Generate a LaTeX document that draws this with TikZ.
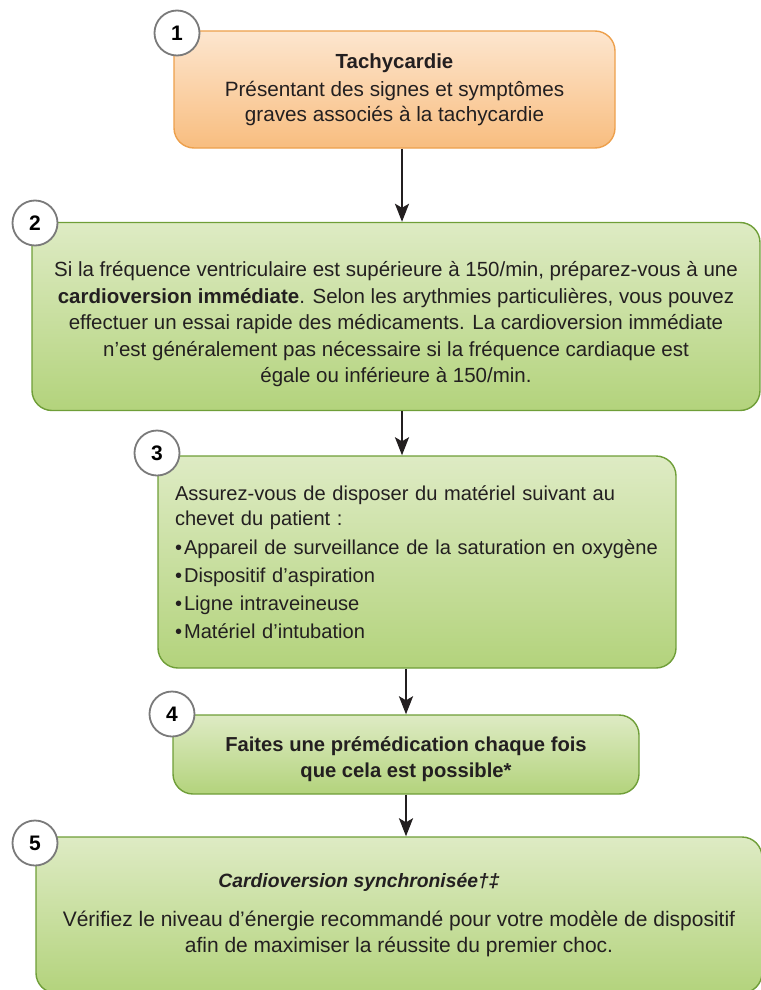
\documentclass[tikz,border=0pt]{standalone}
\usepackage{fontspec}
\setmainfont{Liberation Sans}
\usetikzlibrary{arrows.meta}
\definecolor{otop}{HTML}{FDE6CF}
\definecolor{obot}{HTML}{F8BD7F}
\definecolor{oedge}{HTML}{EDA04C}
\definecolor{gtop}{HTML}{DEEBC4}
\definecolor{gbot}{HTML}{B3D37C}
\definecolor{gedge}{HTML}{6F9E38}
\definecolor{txt}{HTML}{231F20}
\definecolor{cedge}{HTML}{7A7A7A}
\newcommand{\bul}{•\hspace{2pt}}
\begin{document}
\begin{tikzpicture}[x=1pt,y=-1pt,
  font=\fontsize{20.5}{26.5}\selectfont, text=txt,
  box/.style={draw, line width=1.4pt, rounded corners=20pt, inner sep=0pt, align=center},
  obox/.style={box, draw=oedge, top color=otop, bottom color=obot},
  gbox/.style={box, draw=gedge, top color=gtop, bottom color=gbot},
  numc/.style={circle, draw=cedge, fill=white, line width=1.8pt, minimum size=45pt, inner sep=0pt, font=\fontsize{21}{21}\selectfont\bfseries, text=black},
  arr/.style={draw=txt, line width=2.4pt, -{Stealth[length=18pt,width=14pt,inset=4pt]}}]
\useasboundingbox (0,0) rectangle (760,990);

% boxes
\node[obox, minimum width=441pt, minimum height=117pt, font=\fontsize{20.7}{25}\selectfont] (b1) at (394.5,89.5)
  {\textbf{\fontsize{20.4}{25}\selectfont Tachycardie}\\[3pt]
   Présentant des signes et symptômes\\ graves associés à la tachycardie};

\node[gbox, minimum width=728pt, minimum height=188pt] (b2) at (396,316.5)
  {\rule{0pt}{31pt}Si la fréquence ventriculaire est supérieure à 150/min, préparez-vous à une\\
   \textbf{cardioversion immédiate}. Selon les arythmies particulières, vous pouvez\\
   effectuer un essai rapide des médicaments. La cardioversion immédiate\\
   n’est généralement pas nécessaire si la fréquence cardiaque est\\
   égale ou inférieure à 150/min.};

\node[gbox, minimum width=518pt, minimum height=212pt, text width=484pt, inner xsep=17pt, align=left, font=\fontsize{20.1}{25}\selectfont] (b3) at (417,562)
  {Assurez-vous de disposer du matériel suivant au\\
   chevet du patient :\\[4pt]
   \bul Appareil de surveillance de la saturation en oxygène\\[3pt]
   \bul Dispositif d’aspiration\\[3pt]
   \bul Ligne intraveineuse\\[3pt]
   \bul Matériel d’intubation};

\node[gbox, minimum width=466pt, minimum height=79pt, font=\fontsize{20.2}{26}\selectfont\bfseries] (b4) at (406,754.5)
  {\rule{0pt}{25pt}Faites une prémédication chaque fois\\ que cela est possible*};

\node[gbox, minimum width=726pt, minimum height=156pt, font=\fontsize{21}{25.5}\selectfont] (b5) at (399,915)
  {\textbf{\textit{\fontsize{19.3}{25}\selectfont Cardioversion synchronisée†‡}}\hspace{80pt}\mbox{}\\[14pt]
   Vérifiez le niveau d’énergie recommandé pour votre modèle de dispositif\\
   afin de maximiser la réussite du premier choc.};

% numbers
\node[numc] (n1) at (177,33) {1};
\node[numc] (n2) at (35,223) {2};
\node[numc] (n3) at (157,453) {3};
\node[numc] (n4) at (172,714) {4};
\node[numc] (n5) at (35,843) {5};

% arrows
\coordinate (x1) at (402,0);
\coordinate (x2) at (402,0);
\coordinate (x3) at (406,0);
\coordinate (x4) at (406,0);
\draw[arr] (b1.south -| x1) -- (b2.north -| x1);
\draw[arr] (b2.south -| x2) -- (b3.north -| x2);
\draw[arr] (b3.south -| x3) -- (b4.north -| x3);
\draw[arr] (b4.south -| x4) -- (b5.north -| x4);
\end{tikzpicture}
\end{document}
